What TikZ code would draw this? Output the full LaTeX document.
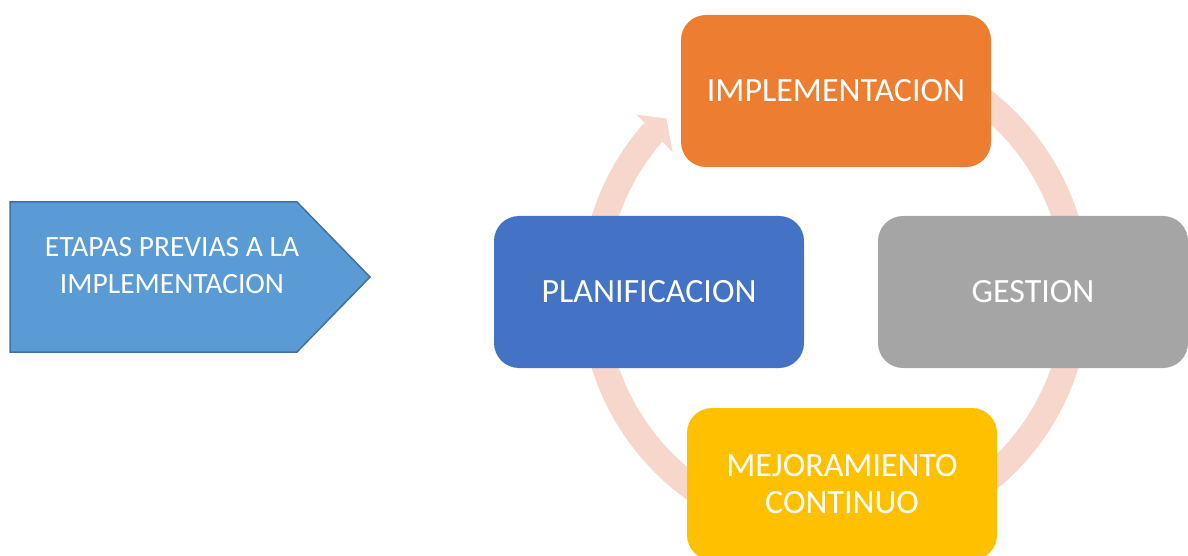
\documentclass[tikz,border=0pt]{standalone}
\usepackage{fontspec}
\setmainfont{Carlito}
\usetikzlibrary{calc}

\definecolor{implorange}{HTML}{ED7D31}
\definecolor{planblue}{HTML}{4472C4}
\definecolor{gestgray}{HTML}{A5A5A5}
\definecolor{mejogold}{HTML}{FFC000}
\definecolor{prevblue}{HTML}{5B9BD5}
\definecolor{prevedge}{HTML}{41719C}
\definecolor{ringpink}{RGB}{247,214,204}

\tikzset{
  stagebox/.style={rounded corners=25pt, minimum width=310pt, minimum height=152pt,
    text=white, align=center, font=\fontsize{34}{37}\selectfont},
  ring/.style={draw=ringpink, line width=26pt}
}

\begin{document}
\begin{tikzpicture}[x=1pt, y=1pt]
  \useasboundingbox (0,0) rectangle (1188,555);

  % Cycle parameters
  \pgfmathsetmacro{\ringradius}{242}
  \coordinate (hub) at (835,263);

  % Ring behind the stages
  \draw[ring] (hub) ++(125:\ringradius)
    arc[start angle=125, end angle=-195, radius=\ringradius];
  \draw[ring] (hub) ++(165:\ringradius)
    arc[start angle=165, end angle=138.5, radius=\ringradius];
  % Arrow head into the first stage
  \fill[ringpink] ($(hub)+(139.3:214)$) -- ($(hub)+(134.2:\ringradius)$)
    -- ($(hub)+(138.2:266)$) -- cycle;

  % Stages of the cycle
  \node[stagebox, fill=implorange] (impl) at (836,464) {IMPLEMENTACION};
  \node[stagebox, fill=planblue]   (plan) at (649,263) {PLANIFICACION};
  \node[stagebox, fill=gestgray]   (gest) at (1033,263) {GESTION};
  \node[stagebox, fill=mejogold]   (mejo) at (842,71) {MEJORAMIENTO\\CONTINUO};

  % Previous stages
  \draw[fill=prevblue, draw=prevedge, line width=1.5pt]
    (10,353) -- (297,353) -- (370,278) -- (297,203) -- (10,203) -- cycle;
  \node[text=white, align=center, font=\fontsize{29.5}{37}\selectfont] (prev) at (172,289)
    {ETAPAS PREVIAS A LA\\IMPLEMENTACION};

\end{tikzpicture}
\end{document}
